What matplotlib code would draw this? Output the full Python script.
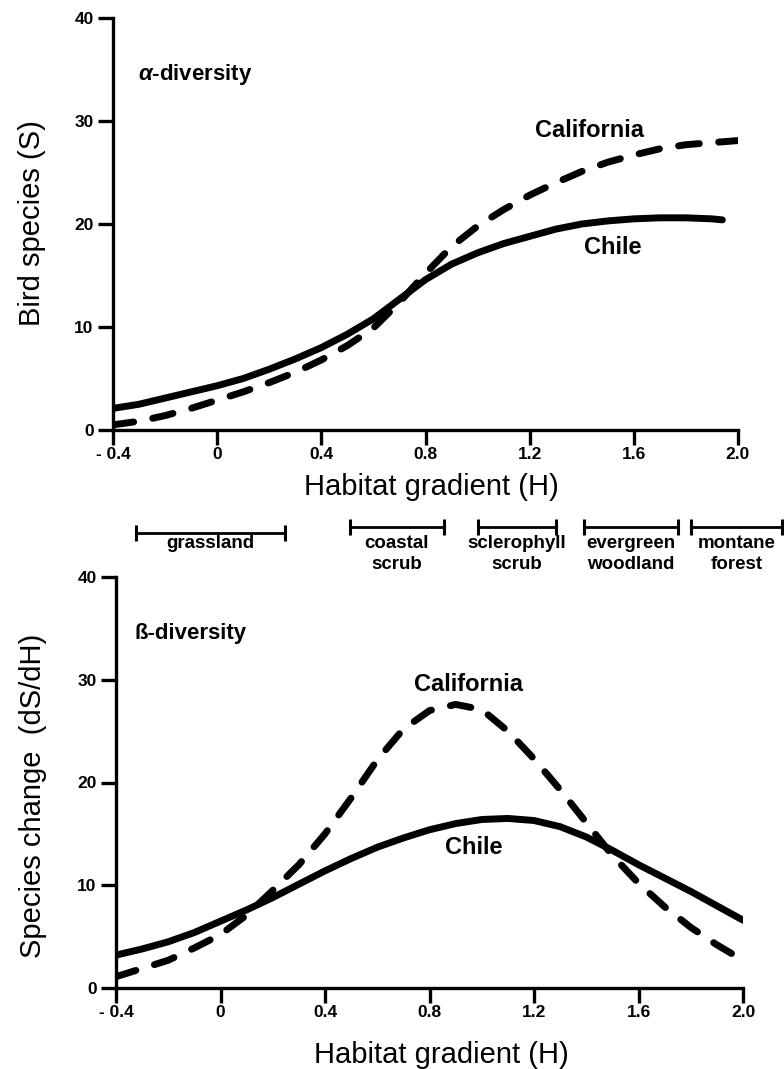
import numpy as np
import matplotlib
matplotlib.use("Agg")
import matplotlib.pyplot as plt

plt.rcParams['font.family'] = ['Liberation Sans', 'DejaVu Sans']
plt.rcParams['mathtext.fontset'] = 'custom'
plt.rcParams['mathtext.it'] = 'Liberation Sans:italic:bold'
plt.rcParams['lines.scale_dashes'] = False

# habitat gradient H
h_top = [-0.4, -0.3, -0.2, -0.1, 0.0, 0.1, 0.2, 0.3, 0.4, 0.5, 0.6, 0.7, 0.8,
         0.9, 1.0, 1.1, 1.2, 1.3, 1.4, 1.5, 1.6, 1.7, 1.8, 1.9, 2.0]
h_chile_top = h_top[:-1] + [1.94]

# alpha diversity: bird species S
s_california = [0.5, 0.85, 1.4, 2.1, 2.9, 3.7, 4.6, 5.6, 6.8, 8.2, 9.9, 12.4, 15.2,
                17.8, 19.8, 21.4, 22.8, 24.0, 25.1, 26.0, 26.7, 27.3, 27.7, 27.9, 28.1]
s_chile = [2.1, 2.5, 3.1, 3.7, 4.3, 5.0, 5.9, 6.9, 8.0, 9.3, 10.8, 12.7, 14.6,
           16.1, 17.2, 18.1, 18.8, 19.5, 20.0, 20.3, 20.5, 20.6, 20.6, 20.5, 20.4]

# beta diversity: species change dS/dH
h_bot = h_top
d_california = [1.1, 1.9, 2.7, 3.9, 5.2, 7.1, 9.5, 12.0, 15.0, 18.5, 22.2, 25.2, 27.0,
                27.6, 27.1, 25.0, 22.3, 19.3, 16.1, 12.9, 10.2, 7.9, 5.9, 4.2, 2.7]
d_chile = [3.2, 3.8, 4.5, 5.4, 6.5, 7.6, 8.8, 10.1, 11.4, 12.6, 13.7, 14.6, 15.4,
           16.0, 16.4, 16.5, 16.3, 15.7, 14.7, 13.4, 12.0, 10.7, 9.4, 8.0, 6.6]

# habitat types along H
habitats = ['grassland', 'coastal\nscrub', 'sclerophyll\nscrub', 'evergreen\nwoodland', 'montane\nforest']
habitat_lo = [-0.31, 0.51, 1.0, 1.41, 1.82]
habitat_hi = [0.26, 0.87, 1.30, 1.77, 2.17]

xticks = [-0.4, 0, 0.4, 0.8, 1.2, 1.6, 2.0]
xticklabels = ['- 0.4', '0', '0.4', '0.8', '1.2', '1.6', '2.0']
yticks = [0, 10, 20, 30, 40]

W, H = 784, 1069
fig = plt.figure(figsize=(W / 100, H / 100), dpi=100)


def box(x0, x1, ytop, ybot):
    return [x0 / W, 1 - ybot / H, (x1 - x0) / W, (ybot - ytop) / H]


def style(ax):
    ax.set_xlim(-0.4, 2.0)
    ax.set_ylim(0, 40)
    for s in ['top', 'right']:
        ax.spines[s].set_visible(False)
    for s in ['left', 'bottom']:
        ax.spines[s].set_linewidth(2.4)
    ax.set_xticks(xticks)
    ax.set_xticklabels(xticklabels)
    ax.set_yticks(yticks)
    ax.tick_params(direction='out', length=11, width=2.4, labelsize=12.5, pad=1.5)
    ax.tick_params(axis='y', pad=3)
    for lab in ax.get_xticklabels() + ax.get_yticklabels():
        lab.set_fontweight('bold')


solid = dict(color='black', lw=5, solid_capstyle='round', solid_joinstyle='round')
dashed = dict(color='black', lw=5, linestyle=(0, (15, 14)), dash_capstyle='round',
              dash_joinstyle='round')

# alpha diversity
ax1 = fig.add_axes(box(113, 738, 18, 430))
style(ax1)
ax1.plot(h_chile_top, s_chile, **solid)
ax1.plot(h_top, s_california, **dashed)
ax1.text(-0.305, 34.5, r'$\alpha$-diversity', fontsize=16, fontweight='bold', va='center')
ax1.text(1.43, 29.1, 'California', fontsize=17, fontweight='bold', ha='center', va='center')
ax1.text(1.52, 17.7, 'Chile', fontsize=17, fontweight='bold', ha='center', va='center')

# beta diversity
ax2 = fig.add_axes(box(116, 743, 577, 988))
style(ax2)
ax2.plot(h_bot, d_chile, **solid)
ax2.plot(h_bot, d_california, **dashed)
ax2.text(-0.33, 34.5, 'ß-diversity', fontsize=16, fontweight='bold', va='center')
ax2.text(0.95, 29.5, 'California', fontsize=17, fontweight='bold', ha='center', va='center')
ax2.text(0.97, 13.7, 'Chile', fontsize=17, fontweight='bold', ha='center', va='center')

# habitat ranges between the panels
axh = fig.add_axes(box(113, 738, 505, 605))
axh.set_xlim(-0.4, 2.0)
axh.set_ylim(0, 1)
axh.axis('off')
bar_y = [0.72, 0.78, 0.78, 0.78, 0.78]
for name, lo, hi, y in zip(habitats, habitat_lo, habitat_hi, bar_y):
    axh.plot([lo, hi], [y, y], color='black', lw=2, clip_on=False)
    axh.plot([lo, hi], [y, y], color='black', ls='none', marker='|', ms=11, mew=2.2, clip_on=False)
    axh.text((lo + hi) / 2, 0.695, name, fontsize=13.5, fontweight='bold',
             ha='center', va='top', linespacing=1.25, clip_on=False)

# axis labels
fig.text(431 / W, 1 - 487 / H, 'Habitat gradient (H)', fontsize=21, ha='center', va='center')
fig.text(441 / W, 1 - 1055 / H, 'Habitat gradient (H)', fontsize=21, ha='center', va='center')
fig.text(32 / W, 1 - 223 / H, 'Bird species (S)', fontsize=21, rotation=90, ha='center', va='center')
fig.text(33 / W, 1 - 796 / H, 'Species change  (dS/dH)', fontsize=21, rotation=90, ha='center', va='center')

fig.savefig('out.png', dpi=100, facecolor='white')
